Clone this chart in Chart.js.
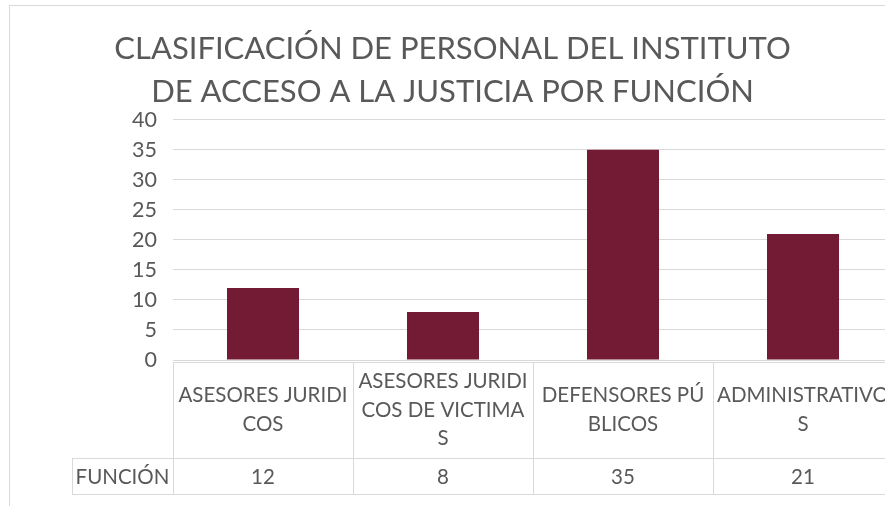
<!DOCTYPE html>
<html>
<head>
<meta charset="utf-8">
<script src="https://cdn.jsdelivr.net/npm/chart.js@4"></script>
<style>
  html, body { margin: 0; padding: 0; background: #fff; overflow: hidden; }
  #wrap { position: relative; width: 905px; height: 506px; }
</style>
</head>
<body>
<div id="wrap"><canvas id="chart"></canvas></div>
<script>
// Category labels, wrapped the way the table shows them
const categories = [
  ['ASESORES JURIDI', 'COS'],
  ['ASESORES JURIDI', 'COS DE VICTIMA', 'S'],
  ['DEFENSORES PÚ', 'BLICOS'],
  ['ADMINISTRATIVO', 'S']
];
const seriesName = 'FUNCIÓN';
const values = [12, 8, 35, 21];
const titleLines = [
  'CLASIFICACIÓN DE PERSONAL DEL INSTITUTO',
  'DE ACCESO A LA JUSTICIA POR FUNCIÓN'
];
const yMin = 0;
const yMax = 40;
const yStep = 5;

const textColor = '#595959';
const lineColor = '#d9d9d9';
const font = 'Lato';

// Excel style data table under the plot
const dataTable = {
  id: 'dataTable',
  afterDraw(chart) {
    const ctx = chart.ctx;
    const area = chart.chartArea;
    const band = (area.right - area.left) / categories.length;
    const top = area.bottom + 2;
    const mid = top + 96;
    const bottom = mid + 36;
    const labelLeft = 72;

    ctx.save();
    ctx.strokeStyle = lineColor;
    ctx.lineWidth = 1;
    ctx.beginPath();
    ctx.moveTo(area.left, top + 0.5);
    ctx.lineTo(area.right, top + 0.5);
    ctx.moveTo(labelLeft, mid + 0.5);
    ctx.lineTo(area.right, mid + 0.5);
    ctx.moveTo(labelLeft, bottom + 0.5);
    ctx.lineTo(area.right, bottom + 0.5);
    for (let i = 0; i <= categories.length; i++) {
      const x = Math.round(area.left + i * band) + 0.5;
      ctx.moveTo(x, top);
      ctx.lineTo(x, bottom);
    }
    ctx.moveTo(labelLeft + 0.5, mid);
    ctx.lineTo(labelLeft + 0.5, bottom);
    // outer frame of the chart
    ctx.moveTo(9.5, 5);
    ctx.lineTo(9.5, chart.height);
    ctx.moveTo(9, 5.5);
    ctx.lineTo(chart.width, 5.5);
    ctx.stroke();

    ctx.fillStyle = textColor;
    ctx.font = '20.5px ' + font;
    ctx.textAlign = 'center';
    ctx.textBaseline = 'middle';
    const lh = 28.5;
    const xScale = chart.scales.x;
    categories.forEach((lines, i) => {
      const cx = xScale.getPixelForValue(i);
      const cy = (top + mid) / 2;
      lines.forEach((t, j) => {
        ctx.fillText(t, cx, cy + (j - (lines.length - 1) / 2) * lh);
      });
      ctx.fillText(String(values[i]), cx, (mid + bottom) / 2 + 1);
    });
    ctx.fillText(seriesName, (labelLeft + area.left) / 2, (mid + bottom) / 2 + 1);
    ctx.restore();
  }
};

new Chart(document.getElementById('chart'), {
  type: 'bar',
  data: {
    labels: categories,
    datasets: [{
      label: seriesName,
      data: values,
      backgroundColor: '#731a35',
      barPercentage: 0.4,
      categoryPercentage: 1
    }]
  },
  options: {
    responsive: true,
    maintainAspectRatio: false,
    animation: false,
    layout: { padding: { left: 12, right: 12, top: 0, bottom: 146 } },
    plugins: {
      legend: { display: false },
      tooltip: { enabled: false },
      title: {
        display: true,
        text: titleLines,
        color: textColor,
        font: { family: font, size: 31, weight: 'normal', lineHeight: 1.4 },
        padding: { top: 27, bottom: 6 }
      }
    },
    scales: {
      x: {
        ticks: { display: false },
        grid: { display: false, drawTicks: false },
        border: { display: false }
      },
      y: {
        min: yMin,
        max: yMax,
        ticks: {
          stepSize: yStep,
          padding: 16,
          color: textColor,
          font: { family: font, size: 21.5 }
        },
        grid: { color: lineColor, drawTicks: false },
        border: { display: false },
        afterFit(scale) { scale.width = 161; }
      }
    }
  },
  plugins: [dataTable]
});
</script>
</body>
</html>
